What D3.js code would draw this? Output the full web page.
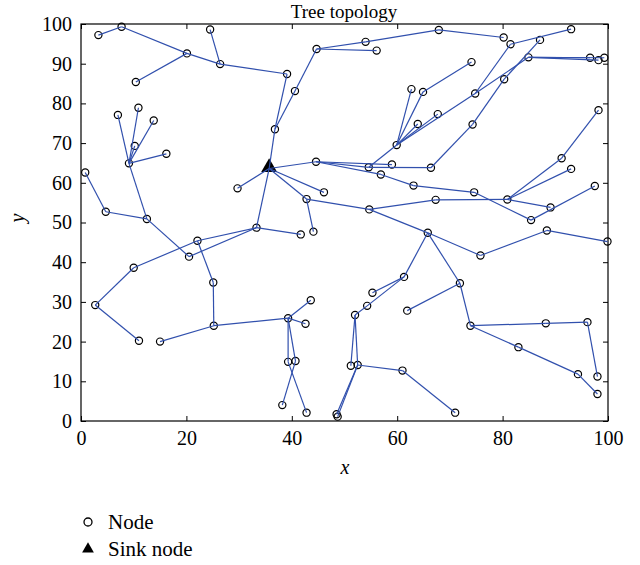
<!DOCTYPE html>
<html>
<head>
<meta charset="utf-8">
<script src="https://cdn.jsdelivr.net/npm/d3@7"></script>
<style>
  body { margin: 0; background: #fff; }
  text { font-family: "Liberation Serif", "DejaVu Serif", serif; }
</style>
</head>
<body>
<svg id="chart" width="640" height="565"></svg>
<script>
// node positions (index 0 is the sink)
const nodeX = [35.7, 3.3, 7.7, 20.1, 10.4, 24.5, 26.4, 39.1, 36.8, 40.6,
  44.7, 54, 56.1, 67.9, 80.2, 81.5, 93, 74.8, 84.9, 96.6,
  98.2, 99.3, 87.1, 80.3, 74.3, 66.4, 74.1, 64.9, 62.7, 59.9,
  63.9, 67.7, 54.6, 44.6, 59, 56.9, 63.1, 74.6, 85.4, 97.5,
  89.1, 80.9, 91.2, 93, 98.2, 67.3, 54.7, 42.8, 46.1, 44.1,
  65.8, 75.8, 88.4, 99.9, 71.9, 73.9, 88.2, 96.1, 98, 83,
  94.3, 98, 61.9, 61.3, 55.3, 54.3, 52, 51.2, 52.5, 61,
  71, 48.5, 48.7, 33.3, 41.7, 29.7, 20.5, 22.1, 12.5, 4.7,
  0.8, 9.1, 16.2, 7, 10.9, 13.8, 10.2, 10, 2.7, 11,
  25.1, 25.2, 15, 39.3, 43.6, 42.6, 39.3, 40.7, 38.2, 42.8];
const nodeY = [63.6, 97.2, 99.3, 92.6, 85.4, 98.6, 89.9, 87.4, 73.5, 83.1,
  93.7, 95.5, 93.3, 98.5, 96.6, 94.9, 98.7, 82.5, 91.6, 91.5,
  90.9, 91.5, 96, 86.1, 74.7, 63.8, 90.4, 82.9, 83.6, 69.5,
  74.8, 77.3, 63.9, 65.3, 64.6, 62.1, 59.3, 57.6, 50.6, 59.2,
  53.8, 55.8, 66.2, 63.5, 78.3, 55.7, 53.3, 55.9, 57.6, 47.7,
  47.4, 41.7, 48, 45.2, 34.7, 24, 24.6, 24.9, 11.2, 18.6,
  11.8, 6.8, 27.8, 36.3, 32.3, 29, 26.7, 13.9, 14.1, 12.7,
  2.1, 1.7, 1.1, 48.7, 47, 58.6, 41.4, 45.4, 50.9, 52.7,
  62.6, 64.9, 67.3, 77.1, 78.9, 75.7, 69.3, 38.6, 29.2, 20.2,
  34.9, 24, 20, 25.9, 30.4, 24.5, 14.9, 15.1, 4, 2.1];

// tree links as pairs of node indices
const links = [
  [0, 8], [0, 33], [0, 48], [0, 47], [0, 73], [0, 75],
  [8, 7], [8, 9], [9, 10], [7, 6], [6, 3], [6, 5], [3, 2], [3, 4], [2, 1],
  [10, 11], [10, 12], [11, 13], [13, 14],
  [17, 15], [15, 16], [17, 18], [18, 19], [18, 20], [18, 21],
  [29, 17], [29, 31], [29, 30], [29, 28], [29, 27], [27, 26], [29, 32],
  [33, 32], [33, 34], [33, 35], [32, 25], [25, 24], [24, 23], [23, 22],
  [35, 36], [36, 37], [37, 38], [38, 39],
  [41, 40], [41, 42], [41, 43], [42, 44], [41, 45], [45, 46], [46, 47], [46, 50],
  [47, 49],
  [50, 51], [51, 52], [52, 53], [50, 54], [50, 63],
  [54, 55], [55, 56], [56, 57], [57, 58], [55, 59], [59, 60], [60, 61], [54, 62],
  [63, 64], [63, 65], [65, 66], [66, 67], [66, 68], [68, 69], [69, 70], [68, 71], [68, 72],
  [73, 74], [73, 76], [73, 77], [76, 78], [78, 79], [79, 80], [78, 81],
  [81, 82], [81, 83], [81, 84], [81, 85], [81, 86],
  [77, 87], [77, 90], [87, 88], [88, 89], [90, 91], [91, 92], [91, 93],
  [93, 94], [93, 95], [93, 96], [93, 97], [96, 99], [97, 98]
];

const xTicks = [0, 20, 40, 60, 80, 100];
const yTicks = [0, 10, 20, 30, 40, 50, 60, 70, 80, 90, 100];
const legendLabels = ["Node", "Sink node"];

const svg = d3.select("#chart");
const plotLeft = 81, plotRight = 608, plotTop = 24, plotBottom = 421;

const x = d3.scaleLinear().domain([0, 100]).range([plotLeft, plotRight]);
const y = d3.scaleLinear().domain([0, 100]).range([plotBottom, plotTop]);

const lineColor = "#3150ad";

// axes with ticks pointing inward on all four sides
const styleAxis = g => {
  g.select(".domain").remove();
  g.selectAll(".tick line").attr("stroke", "#000");
  g.selectAll(".tick text").attr("font-size", 20).attr("fill", "#000")
    .attr("font-family", "Liberation Serif, serif");
};

svg.append("g").attr("transform", `translate(0,${plotBottom})`)
  .call(d3.axisBottom(x).tickValues(xTicks).tickSize(-5).tickPadding(10))
  .call(styleAxis);
svg.append("g").attr("transform", `translate(${plotLeft},0)`)
  .call(d3.axisLeft(y).tickValues(yTicks).tickSize(-5).tickPadding(9))
  .call(styleAxis);
svg.append("g").attr("transform", `translate(0,${plotTop})`)
  .call(d3.axisTop(x).tickValues(xTicks).tickSize(-5).tickFormat(""))
  .call(styleAxis);
svg.append("g").attr("transform", `translate(${plotRight},0)`)
  .call(d3.axisRight(y).tickValues(yTicks).tickSize(-5).tickFormat(""))
  .call(styleAxis);

svg.append("rect")
  .attr("x", plotLeft).attr("y", plotTop)
  .attr("width", plotRight - plotLeft).attr("height", plotBottom - plotTop)
  .attr("fill", "none").attr("stroke", "#000").attr("stroke-width", 1.2);

const tri = d3.symbol().type(d3.symbolTriangle);

// markers
svg.append("g").selectAll("circle")
  .data(d3.range(1, nodeX.length))
  .join("circle")
  .attr("cx", i => x(nodeX[i]))
  .attr("cy", i => y(nodeY[i]))
  .attr("r", 3.6)
  .attr("fill", "none")
  .attr("stroke", "#000")
  .attr("stroke-width", 1.2);

svg.append("path")
  .attr("d", tri.size(110)())
  .attr("transform", `translate(${x(nodeX[0])},${y(nodeY[0]) - 1})`)
  .attr("fill", "#000");

// links on top of the markers
svg.append("g").selectAll("line")
  .data(links)
  .join("line")
  .attr("x1", d => x(nodeX[d[0]]))
  .attr("y1", d => y(nodeY[d[0]]))
  .attr("x2", d => x(nodeX[d[1]]))
  .attr("y2", d => y(nodeY[d[1]]))
  .attr("stroke", lineColor)
  .attr("stroke-width", 1.2);

// title and axis labels
svg.append("text").attr("x", 344).attr("y", 18)
  .attr("text-anchor", "middle").attr("font-size", 19)
  .text("Tree topology");
svg.append("text").attr("x", 345).attr("y", 474)
  .attr("text-anchor", "middle").attr("font-size", 20).attr("font-style", "italic")
  .text("x");
svg.append("text").attr("transform", "translate(24,218) rotate(-90)")
  .attr("text-anchor", "middle").attr("font-size", 20).attr("font-style", "italic")
  .text("y");

// legend
const legend = svg.append("g");
legend.append("circle").attr("cx", 88).attr("cy", 522).attr("r", 4)
  .attr("fill", "none").attr("stroke", "#000").attr("stroke-width", 1.3);
legend.append("path").attr("d", tri.size(60)())
  .attr("transform", "translate(88,549)").attr("fill", "#000");
legend.selectAll("text")
  .data(legendLabels)
  .join("text")
  .attr("x", 108)
  .attr("y", (d, i) => 529 + i * 27)
  .attr("font-size", 21)
  .text(d => d);
</script>
</body>
</html>
